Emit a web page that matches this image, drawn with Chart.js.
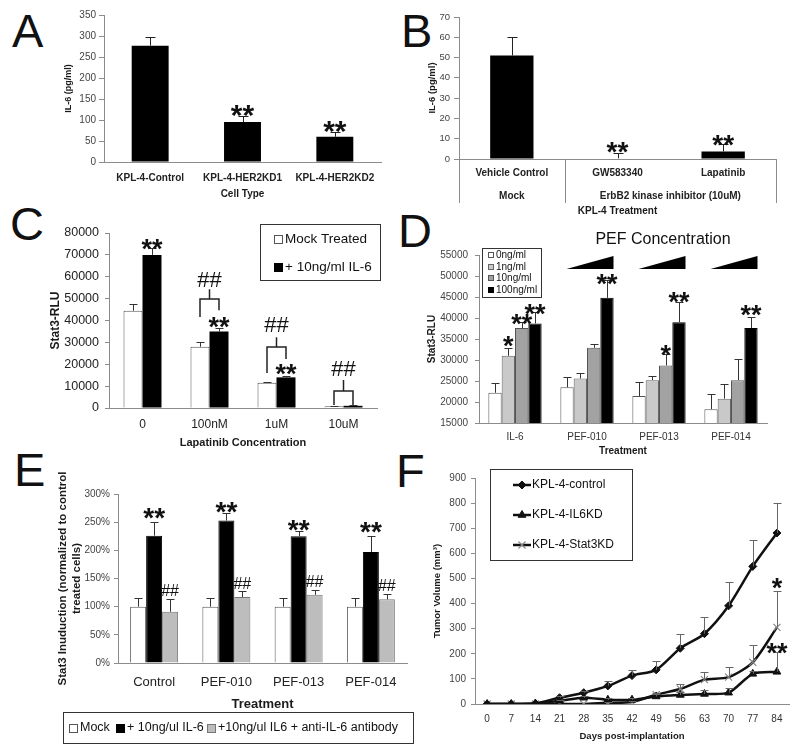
<!DOCTYPE html>
<html>
<head>
<meta charset="utf-8">
<title>IL-6 / Stat3 in KPL-4 cells</title>
<script src="https://cdn.jsdelivr.net/npm/chart.js"></script>
<style>
  body { margin: 0; background: #fff; }
  #wrap { position: relative; width: 800px; height: 750px; overflow: hidden; font-family: 'Liberation Sans', Arial, sans-serif; }
  #wrap canvas { position: absolute; }
  .panel { position: absolute; font-size: 47px; line-height: 47px; color: #111; }
</style>
</head>
<body>
<div id="wrap">
  <div class="panel" style="left:12px;top:7px">A</div>
  <div class="panel" style="left:401px;top:7px">B</div>
  <div class="panel" style="left:10px;top:200px">C</div>
  <div class="panel" style="left:398px;top:207px">D</div>
  <div class="panel" style="left:14px;top:446px">E</div>
  <div class="panel" style="left:396px;top:447px">F</div>
  <canvas id="chartA" width="400" height="205" style="left:0;top:0"></canvas>
  <canvas id="chartB" width="400" height="222" style="left:400px;top:0"></canvas>
  <canvas id="chartC" width="400" height="252" style="left:0;top:200px"></canvas>
  <canvas id="chartD" width="400" height="254" style="left:400px;top:205px"></canvas>
  <canvas id="chartE" width="420" height="305" style="left:0;top:445px"></canvas>
  <canvas id="chartF" width="400" height="305" style="left:400px;top:445px"></canvas>
</div>
<script>
'use strict';
// ---- data ----
// A: IL-6 secretion by cell type
const cellTypes = ['KPL-4-Control', 'KPL-4-HER2KD1', 'KPL-4-HER2KD2'];
const il6Cells = [277, 95, 60];
const il6CellsErr = [20, 14, 11];

// B: IL-6 after kinase inhibitor
const treatments = ['Vehicle Control', 'GW583340', 'Lapatinib'];
const treatmentGroups = ['Mock', 'ErbB2 kinase inhibitor (10uM)'];
const groupSizes = [1, 2];
const il6Treat = [51, 0.3, 3.7];
const il6TreatErr = [9, 2.8, 3.5];

// C: Stat3 reporter vs lapatinib
const lapConc = ['0', '100nM', '1uM', '10uM'];
const cMock = [44500, 28000, 11500, 800];
const cMockErr = [3000, 2200, 400, 200];
const cIL6 = [70000, 35000, 14000, 1000];
const cIL6Err = [3000, 1500, 800, 200];

// D: Stat3 reporter vs PEF dose
const pefTreat = ['IL-6', 'PEF-010', 'PEF-013', 'PEF-014'];
const dose0 = [22200, 23500, 21400, 18300];
const dose0Err = [2300, 2500, 3300, 3500];
const dose1 = [31000, 25600, 25200, 20800];
const dose1Err = [1800, 1300, 1000, 3400];
const dose10 = [37600, 32900, 28700, 25200];
const dose10Err = [1400, 900, 2700, 5100];
const dose100 = [38700, 44800, 39000, 37600];
const dose100Err = [2800, 4200, 4800, 2700];

// E: normalized Stat3 induction
const eTreat = ['Control', 'PEF-010', 'PEF-013', 'PEF-014'];
const eMock = [100, 100, 100, 100];
const eMockErr = [15, 15, 15, 15];
const eIL6 = [226, 253, 225, 197];
const eIL6Err = [24, 13, 9, 28];
const eAnti = [91, 117, 121, 113];
const eAntiErr = [23, 10, 8, 10];

// F: tumor growth
const days = ['0', '7', '14', '21', '28', '35', '42', '49', '56', '63', '70', '77', '84'];
const fControl = [0, 0, 2, 25, 45, 72, 113, 136, 222, 280, 391, 548, 681];
const fControlErr = [0, 0, 0, 5, 7, 18, 21, 35, 58, 68, 95, 104, 119];
const fIL6KD = [0, 0, 2, 13, 25, 17, 17, 30, 36, 40, 45, 120, 128];
const fIL6KDErr = [0, 0, 0, 3, 5, 5, 5, 8, 10, 17, 19, 10, 80];
const fStat3KD = [0, 0, 0, 0, 0, 5, 8, 37, 60, 97, 107, 166, 305];
const fStat3KDErr = [0, 0, 0, 0, 0, 3, 5, 8, 21, 29, 40, 70, 146];

// ---- helpers ----
const FONT = "'Liberation Sans', Arial, sans-serif";
Chart.defaults.font.family = FONT;
Chart.defaults.color = '#333';
Chart.defaults.animation = false;
Chart.defaults.responsive = false;
Chart.defaults.devicePixelRatio = 1;
Chart.defaults.plugins.legend.display = false;
Chart.defaults.plugins.tooltip.enabled = false;

function font(size, bold) {
  return { family: FONT, size: size, weight: bold ? 'bold' : 'normal' };
}
function cssFont(size, bold) {
  return (bold ? 'bold ' : '') + size + 'px ' + FONT;
}

function yAxis(min, max, step, title, o) {
  return {
    min: min, max: max,
    ticks: { stepSize: step, font: font(o.tick, false), color: o.tickColor || '#444', padding: o.pad,
             callback: o.fmt || (v => String(v)) },
    grid: { drawOnChartArea: false, color: '#8c8c8c', tickLength: o.len },
    border: { color: '#8c8c8c' },
    title: { display: true, text: title, font: font(o.tsize, true), color: '#1a1a1a', padding: { top: o.tpad, bottom: 0 } },
    afterFit: s => { s.width = o.width; }
  };
}

function xAxis(title, o) {
  return {
    offset: true,
    ticks: { font: font(o.tick, o.bold), color: o.tickColor || '#222', padding: o.pad, maxRotation: 0, autoSkip: false },
    grid: { display: false, drawTicks: false },
    border: { color: '#8c8c8c' },
    title: { display: true, text: title, font: font(o.tsize, true), color: '#1a1a1a', padding: { top: 0, bottom: o.tpad } },
    afterFit: s => { s.height = o.height; }
  };
}

// error bars, drawn upward only
const errorBars = {
  id: 'errorBars',
  afterDatasetsDraw(chart, args, opts) {
    const ctx = chart.ctx;
    const yScale = chart.scales.y;
    chart.data.datasets.forEach((ds, d) => {
      if (!ds.errors) return;
      chart.getDatasetMeta(d).data.forEach((pt, i) => {
        const e = ds.errors[i];
        if (!e) return;
        const top = Math.round(yScale.getPixelForValue(ds.data[i] + e)) + 0.5;
        const x = Math.round(pt.x) + 0.5;
        ctx.save();
        ctx.strokeStyle = opts.color;
        ctx.lineWidth = 1;
        ctx.beginPath();
        ctx.moveTo(x, pt.y);
        ctx.lineTo(x, top);
        ctx.moveTo(x - opts.cap, top);
        ctx.lineTo(x + opts.cap, top);
        ctx.stroke();
        ctx.restore();
      });
    });
  }
};

function drawSymbol(ctx, text, x, cy, size, weight) {
  ctx.save();
  ctx.fillStyle = '#111';
  ctx.font = (weight || 'bold') + ' ' + size + 'px ' + FONT;
  ctx.textAlign = 'center';
  ctx.textBaseline = 'alphabetic';
  const k = text.indexOf('*') >= 0 ? 0.58 : 0.35;
  ctx.fillText(text, x, cy + k * size);
  ctx.restore();
}

// significance marks: [dataset, index, text, gap above error cap, size, weight]
function marksPlugin(items) {
  return {
    id: 'marks',
    afterDraw(chart) {
      const yScale = chart.scales.y;
      items.forEach(m => {
        const ds = chart.data.datasets[m[0]];
        const pt = chart.getDatasetMeta(m[0]).data[m[1]];
        const top = yScale.getPixelForValue(ds.data[m[1]] + (ds.errors ? ds.errors[m[1]] : 0));
        drawSymbol(chart.ctx, m[2], pt.x, top - m[3], m[4], m[5]);
      });
    }
  };
}

function boxLegend(box, rows, size, swatch) {
  return {
    id: 'boxLegend',
    afterDraw(chart) {
      const ctx = chart.ctx;
      ctx.save();
      ctx.fillStyle = '#fff';
      ctx.fillRect(box.x, box.y, box.w, box.h);
      ctx.strokeStyle = '#333';
      ctx.lineWidth = 1;
      ctx.strokeRect(box.x + 0.5, box.y + 0.5, box.w, box.h);
      ctx.font = cssFont(size, false);
      ctx.textBaseline = 'middle';
      ctx.textAlign = 'left';
      rows.forEach(r => {
        const ds = chart.data.datasets[r.ds];
        const top = Math.round(r.y - swatch / 2);
        ctx.fillStyle = ds.backgroundColor;
        ctx.fillRect(r.x, top, swatch, swatch);
        ctx.strokeStyle = ds.borderColor || ds.backgroundColor;
        ctx.strokeRect(r.x + 0.5, top + 0.5, swatch - 1, swatch - 1);
        ctx.fillStyle = '#111';
        ctx.fillText(ds.label, r.x + swatch + 2, r.y);
      });
      ctx.restore();
    }
  };
}

// ---- A ----
new Chart(document.getElementById('chartA'), {
  type: 'bar',
  data: {
    labels: cellTypes,
    datasets: [{ label: 'IL-6', data: il6Cells, errors: il6CellsErr, backgroundColor: '#000',
                 barPercentage: 0.4, categoryPercentage: 1 }]
  },
  options: {
    layout: { padding: { left: 60, right: 19, top: 15, bottom: 0 } },
    scales: {
      x: xAxis('Cell Type', { tick: 10, bold: true, pad: 10, tsize: 10, tpad: 5, height: 43 }),
      y: yAxis(0, 350, 50, 'IL-6 (pg/ml)', { tick: 10, pad: 3, len: 5, tsize: 9, tpad: 3, width: 44 })
    },
    plugins: { errorBars: { cap: 5, color: '#222' } }
  },
  plugins: [errorBars, marksPlugin([[0, 1, '**', 8.5, 30], [0, 2, '**', 8.5, 30]])]
});

// ---- B ----
const groupPlugin = {
  id: 'groups',
  afterDraw(chart) {
    const ctx = chart.ctx;
    const x = chart.scales.x;
    const half = (x.getPixelForValue(1) - x.getPixelForValue(0)) / 2;
    const base = chart.chartArea.bottom;
    const edges = [];
    ctx.save();
    ctx.font = cssFont(10, true);
    ctx.fillStyle = '#222';
    ctx.textAlign = 'center';
    ctx.textBaseline = 'middle';
    let start = 0;
    treatmentGroups.forEach((g, k) => {
      const end = start + groupSizes[k] - 1;
      const l = x.getPixelForValue(start) - half;
      const r = x.getPixelForValue(end) + half;
      if (edges.indexOf(l) < 0) edges.push(l);
      edges.push(r);
      ctx.fillText(g, (l + r) / 2, 196);
      start = end + 1;
    });
    ctx.strokeStyle = '#8c8c8c';
    ctx.lineWidth = 1;
    ctx.beginPath();
    edges.forEach(e => {
      const px = Math.round(e) + 0.5;
      ctx.moveTo(px, base);
      ctx.lineTo(px, 203);
    });
    ctx.stroke();
    ctx.restore();
  }
};

new Chart(document.getElementById('chartB'), {
  type: 'bar',
  data: {
    labels: treatments,
    datasets: [{ label: 'IL-6', data: il6Treat, errors: il6TreatErr, backgroundColor: '#000',
                 barPercentage: 0.41, categoryPercentage: 1 }]
  },
  options: {
    layout: { padding: { left: 24, right: 24, top: 17, bottom: 0 } },
    scales: {
      x: xAxis('KPL-4 Treatment', { tick: 10, bold: true, pad: 8, tsize: 10, tpad: 5, height: 63 }),
      y: yAxis(0, 70, 10, 'IL-6 (pg/ml)', { tick: 9.5, pad: 4, len: 5, tsize: 9.5, tpad: 3, width: 35 })
    },
    plugins: { errorBars: { cap: 5, color: '#222' } }
  },
  plugins: [errorBars, groupPlugin, marksPlugin([[0, 1, '**', 8, 28], [0, 2, '**', 7, 28]])]
});

// ---- C ----
// brackets for the ## comparisons (levels in RLU units)
const cBrackets = [
  { i: 1, bar: 49800, stem: 54300, left: 41600, right: 44700, tag: 58900 },
  { i: 2, bar: 27900, stem: 32400, left: 16000, right: 22400, tag: 38400 },
  { i: 3, bar: 7800, stem: 12800, left: 1400, right: 1400, tag: 18300 }
];
const bracketPlugin = {
  id: 'brackets',
  afterDraw(chart) {
    const ctx = chart.ctx;
    const y = chart.scales.y;
    const mock = chart.getDatasetMeta(0).data;
    const il6 = chart.getDatasetMeta(1).data;
    cBrackets.forEach(b => {
      const xl = mock[b.i].x, xr = il6[b.i].x, xm = (xl + xr) / 2;
      ctx.save();
      ctx.strokeStyle = '#222';
      ctx.lineWidth = 1.5;
      ctx.beginPath();
      ctx.moveTo(xl, y.getPixelForValue(b.left));
      ctx.lineTo(xl, y.getPixelForValue(b.bar));
      ctx.lineTo(xr, y.getPixelForValue(b.bar));
      ctx.lineTo(xr, y.getPixelForValue(b.right));
      ctx.moveTo(xm, y.getPixelForValue(b.bar));
      ctx.lineTo(xm, y.getPixelForValue(b.stem));
      ctx.stroke();
      ctx.restore();
      drawSymbol(ctx, '##', xm, y.getPixelForValue(b.tag), 22, 'normal');
    });
  }
};

new Chart(document.getElementById('chartC'), {
  type: 'bar',
  data: {
    labels: lapConc,
    datasets: [
      { label: 'Mock Treated', data: cMock, errors: cMockErr, backgroundColor: '#fff', borderColor: '#555', borderWidth: 1,
        barPercentage: 1, categoryPercentage: 0.567 },
      { label: '+ 10ng/ml IL-6', data: cIL6, errors: cIL6Err, backgroundColor: '#000', borderColor: '#000',
        barPercentage: 1, categoryPercentage: 0.567 }
    ]
  },
  options: {
    layout: { padding: { left: 45, right: 23, top: 33, bottom: 0 } },
    scales: {
      x: xAxis('Lapatinib Concentration', { tick: 12, bold: false, pad: 9, tsize: 11, tpad: 2.4, height: 44 }),
      y: yAxis(0, 80000, 10000, 'Stat3-RLU', { tick: 12.5, tickColor: '#222', pad: 6, len: 4, tsize: 12, tpad: 3, width: 64 })
    },
    plugins: { errorBars: { cap: 4, color: '#333' } }
  },
  plugins: [errorBars, bracketPlugin,
    marksPlugin([[1, 0, '**', 6, 27], [1, 1, '**', 8, 27], [1, 2, '**', 8, 27]]),
    boxLegend({ x: 260, y: 24, w: 120, h: 56 }, [{ ds: 0, x: 274, y: 39 }, { ds: 1, x: 274, y: 67 }], 13.5, 9)]
});

// ---- D ----
const wedgePlugin = {
  id: 'wedges',
  afterDraw(chart) {
    const ctx = chart.ctx;
    const x = chart.scales.x;
    ctx.save();
    ctx.fillStyle = '#000';
    for (let i = 1; i < pefTreat.length; i++) {
      const c = x.getPixelForValue(i) + 3;
      ctx.beginPath();
      ctx.moveTo(c - 23.5, 64);
      ctx.lineTo(c + 23.5, 64);
      ctx.lineTo(c + 23.5, 51);
      ctx.closePath();
      ctx.fill();
    }
    ctx.font = cssFont(16, false);
    ctx.fillStyle = '#111';
    ctx.textAlign = 'center';
    ctx.textBaseline = 'middle';
    ctx.fillText('PEF Concentration', 263, 35);
    ctx.restore();
  }
};

const dBar = { barPercentage: 1, categoryPercentage: 0.74, borderWidth: 1 };
new Chart(document.getElementById('chartD'), {
  type: 'bar',
  data: {
    labels: pefTreat,
    datasets: [
      Object.assign({ label: '0ng/ml', data: dose0, errors: dose0Err, backgroundColor: '#fff', borderColor: '#555' }, dBar),
      Object.assign({ label: '1ng/ml', data: dose1, errors: dose1Err, backgroundColor: '#c9c9c9', borderColor: '#666' }, dBar),
      Object.assign({ label: '10ng/ml', data: dose10, errors: dose10Err, backgroundColor: '#a2a2a2', borderColor: '#555' }, dBar),
      Object.assign({ label: '100ng/ml', data: dose100, errors: dose100Err, backgroundColor: '#000', borderColor: '#000' }, dBar)
    ]
  },
  options: {
    layout: { padding: { left: 23, right: 33, top: 50, bottom: 0 } },
    scales: {
      x: xAxis('Treatment', { tick: 10, bold: false, tickColor: '#333', pad: 8, tsize: 10, tpad: 2, height: 36 }),
      y: yAxis(15000, 55000, 5000, 'Stat3-RLU', { tick: 10, pad: 7, len: 4, tsize: 10, tpad: 3, width: 56 })
    },
    plugins: { errorBars: { cap: 4, color: '#333' } }
  },
  plugins: [errorBars, wedgePlugin,
    marksPlugin([[1, 0, '*', 9, 27], [2, 0, '**', 5, 27], [3, 0, '**', 4, 27], [3, 1, '**', 3, 27],
                 [2, 2, '*', 6, 27], [3, 2, '**', 7, 27], [3, 3, '**', 8, 27]]),
    boxLegend({ x: 82, y: 43, w: 59, h: 49 },
      [{ ds: 0, x: 88, y: 50 }, { ds: 1, x: 88, y: 62 }, { ds: 2, x: 88, y: 73 }, { ds: 3, x: 88, y: 85 }], 10, 6)]
});

// ---- E ----
const eBar = { barPercentage: 1, categoryPercentage: 0.664, borderWidth: 1 };
new Chart(document.getElementById('chartE'), {
  type: 'bar',
  data: {
    labels: eTreat,
    datasets: [
      Object.assign({ label: 'Mock', data: eMock, errors: eMockErr, backgroundColor: '#fff', borderColor: '#555' }, eBar),
      Object.assign({ label: '+ 10ng/ul IL-6', data: eIL6, errors: eIL6Err, backgroundColor: '#000', borderColor: '#000' }, eBar),
      Object.assign({ label: '+10ng/ul IL6 + anti-IL-6 antibody', data: eAnti, errors: eAntiErr, backgroundColor: '#bdbdbd', borderColor: '#777' }, eBar)
    ]
  },
  options: {
    layout: { padding: { left: 56, right: 13, top: 49, bottom: 0 } },
    scales: {
      x: xAxis('Treatment', { tick: 13, bold: false, pad: 12, tsize: 13, tpad: 38, height: 87 }),
      y: yAxis(0, 300, 50, ['Stat3 Inuduction (normalized to control', 'treated cells)'],
        { tick: 10, pad: 4, len: 4, tsize: 11.5, tpad: 0, width: 62, fmt: v => v + '%' })
    },
    plugins: { errorBars: { cap: 4, color: '#333' } }
  },
  plugins: [errorBars,
    marksPlugin([[1, 0, '**', 11, 28], [1, 1, '**', 8, 28], [1, 2, '**', 8, 28], [1, 3, '**', 11, 28],
                 [2, 0, '##', 8.5, 16, 'normal'], [2, 1, '##', 8.5, 16, 'normal'],
                 [2, 2, '##', 8.5, 16, 'normal'], [2, 3, '##', 8.5, 16, 'normal']]),
    boxLegend({ x: 63, y: 267, w: 350, h: 31 },
      [{ ds: 0, x: 69, y: 283 }, { ds: 1, x: 116, y: 283 }, { ds: 2, x: 207, y: 283 }], 12.5, 9)]
});

// ---- F ----
const lineLegend = {
  id: 'lineLegend',
  afterDraw(chart) {
    const ctx = chart.ctx;
    const box = { x: 90, y: 24, w: 142, h: 91 };
    const rowsY = [40, 70, 100];
    ctx.save();
    ctx.strokeStyle = '#333';
    ctx.lineWidth = 1;
    ctx.strokeRect(box.x + 0.5, box.y + 0.5, box.w, box.h);
    ctx.font = cssFont(12, false);
    ctx.textBaseline = 'middle';
    ctx.textAlign = 'left';
    chart.data.datasets.forEach((ds, k) => {
      const y = rowsY[k];
      ctx.strokeStyle = ds.borderColor;
      ctx.lineWidth = ds.borderWidth;
      ctx.beginPath();
      ctx.moveTo(113, y);
      ctx.lineTo(131, y);
      ctx.stroke();
      ctx.fillStyle = ds.pointBackgroundColor;
      ctx.strokeStyle = ds.pointBorderColor;
      ctx.lineWidth = ds.pointBorderWidth;
      Chart.helpers.drawPoint(ctx, { pointStyle: ds.pointStyle, radius: ds.pointRadius, rotation: 0, borderWidth: ds.pointBorderWidth }, 122, y);
      ctx.fillStyle = '#111';
      ctx.fillText(ds.label, 132, y);
    });
    ctx.restore();
  }
};

const fLine = { borderWidth: 2.5, tension: 0.25, fill: false };
new Chart(document.getElementById('chartF'), {
  type: 'line',
  data: {
    labels: days,
    datasets: [
      Object.assign({ label: 'KPL-4-control', data: fControl, errors: fControlErr, borderColor: '#111', backgroundColor: '#111',
        pointStyle: 'rectRot', pointRadius: 4, pointBackgroundColor: '#111', pointBorderColor: '#111', pointBorderWidth: 1 }, fLine),
      Object.assign({ label: 'KPL-4-IL6KD', data: fIL6KD, errors: fIL6KDErr, borderColor: '#111', backgroundColor: '#111',
        pointStyle: 'triangle', pointRadius: 4.5, pointBackgroundColor: '#111', pointBorderColor: '#111', pointBorderWidth: 1 }, fLine),
      Object.assign({ label: 'KPL-4-Stat3KD', data: fStat3KD, errors: fStat3KDErr, borderColor: '#111', backgroundColor: '#888',
        pointStyle: 'crossRot', pointRadius: 5, pointBackgroundColor: '#888', pointBorderColor: '#888', pointBorderWidth: 1.2 }, fLine)
    ]
  },
  options: {
    layout: { padding: { left: 29, right: 11, top: 33, bottom: 0 } },
    scales: {
      x: xAxis('Days post-implantation', { tick: 10, bold: false, tickColor: '#333', pad: 9, tsize: 9.5, tpad: 8.3, height: 46 }),
      y: yAxis(0, 900, 100, 'Tumor Volume (mm³)', { tick: 10, pad: 5, len: 4, tsize: 9.5, tpad: 3, width: 46 })
    },
    plugins: { errorBars: { cap: 4, color: '#666' } }
  },
  plugins: [errorBars, lineLegend, marksPlugin([[2, 12, '*', 9, 27], [1, 12, '**', 5, 27]])]
});
</script>
</body>
</html>
